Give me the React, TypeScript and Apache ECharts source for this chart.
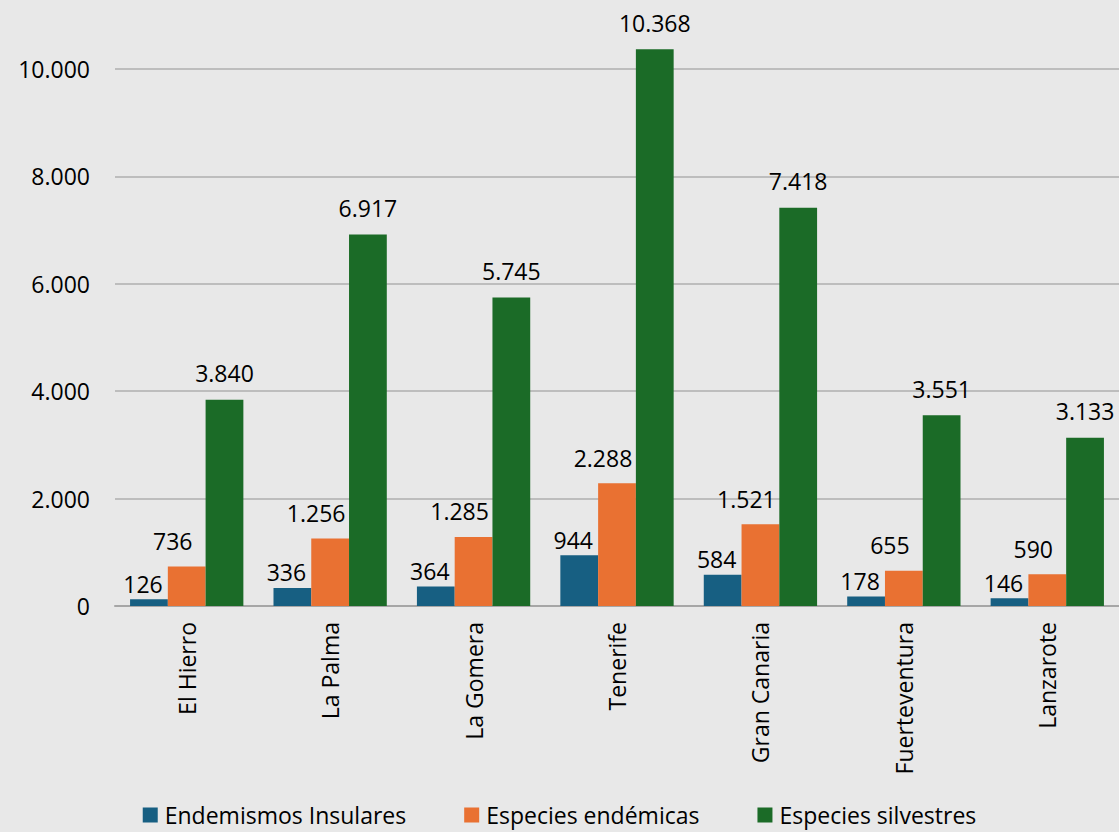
import React, { useEffect, useRef } from "react";
import * as echarts from "echarts";

const islands = ["El Hierro", "La Palma", "La Gomera", "Tenerife", "Gran Canaria", "Fuerteventura", "Lanzarote"];
const endemismosInsulares = [126, 336, 364, 944, 584, 178, 146];
const especiesEndemicas = [736, 1256, 1285, 2288, 1521, 655, 590];
const especiesSilvestres = [3840, 6917, 5745, 10368, 7418, 3551, 3133];
const seriesNames = ["Endemismos Insulares", "Especies endémicas", "Especies silvestres"];

const fmt = (v: number) => String(v).replace(/\B(?=(\d{3})+(?!\d))/g, ".");
const FONT = "Open Sans";
const FS = 23;

export default function App() {
  const ref = useRef<HTMLDivElement>(null);
  useEffect(() => {
    if (!ref.current) return;
    const chart = echarts.init(ref.current, null, { renderer: "svg" });
    const labelBase = {
      show: true,
      position: "top" as const,
      fontFamily: FONT,
      fontSize: FS,
      color: "#000",
      formatter: (p: any) => fmt(p.value),
    };
    chart.setOption({
      animation: false,
      backgroundColor: "#e8e8e8",
      textStyle: { fontFamily: FONT },
      grid: { left: 115, right: -4, top: 69, bottom: 226, containLabel: false },
      legend: {
        bottom: 0,
        left: "center",
        itemWidth: 15,
        itemHeight: 15,
        itemGap: 58,
        icon: "rect",
        textStyle: { fontFamily: FONT, fontSize: 23, lineHeight: 24, color: "#000", padding: [0, 0, 0, 2] },
        data: seriesNames,
      },
      xAxis: {
        type: "category",
        data: islands,
        axisLine: { lineStyle: { color: "#a6a6a6", width: 2 } },
        axisTick: { show: false },
        axisLabel: { rotate: 90, fontFamily: FONT, fontSize: FS, color: "#000", margin: 16 },
      },
      yAxis: {
        type: "value",
        min: 0,
        max: 10000,
        interval: 2000,
        axisLine: { show: false },
        axisTick: { show: false },
        axisLabel: { fontFamily: FONT, fontSize: FS, color: "#000", margin: 25, formatter: (v: number) => fmt(v) },
        splitLine: { lineStyle: { color: "#bdbdbd", width: 2 } },
      },
      series: [
        {
          name: seriesNames[0],
          type: "bar",
          data: endemismosInsulares,
          itemStyle: { color: "#175f82" },
          barGap: "0%",
          barCategoryGap: "21%",
          clip: false,
          label: { ...labelBase, distance: 4, offset: [-6, 0] },
        },
        {
          name: seriesNames[1],
          type: "bar",
          data: especiesEndemicas,
          itemStyle: { color: "#e97132" },
          barGap: "0%",
          barCategoryGap: "21%",
          clip: false,
          label: { ...labelBase, distance: 14, offset: [-14, 0] },
        },
        {
          name: seriesNames[2],
          type: "bar",
          data: especiesSilvestres,
          itemStyle: { color: "#1b6b27" },
          barGap: "0%",
          barCategoryGap: "21%",
          clip: false,
          label: { ...labelBase, distance: 15, offset: [0, 0] },
        },
      ],
    });
    return () => chart.dispose();
  }, []);
  return <div ref={ref} style={{ position: "fixed", left: 0, top: 0, width: 1119, height: 832 }} />;
}
